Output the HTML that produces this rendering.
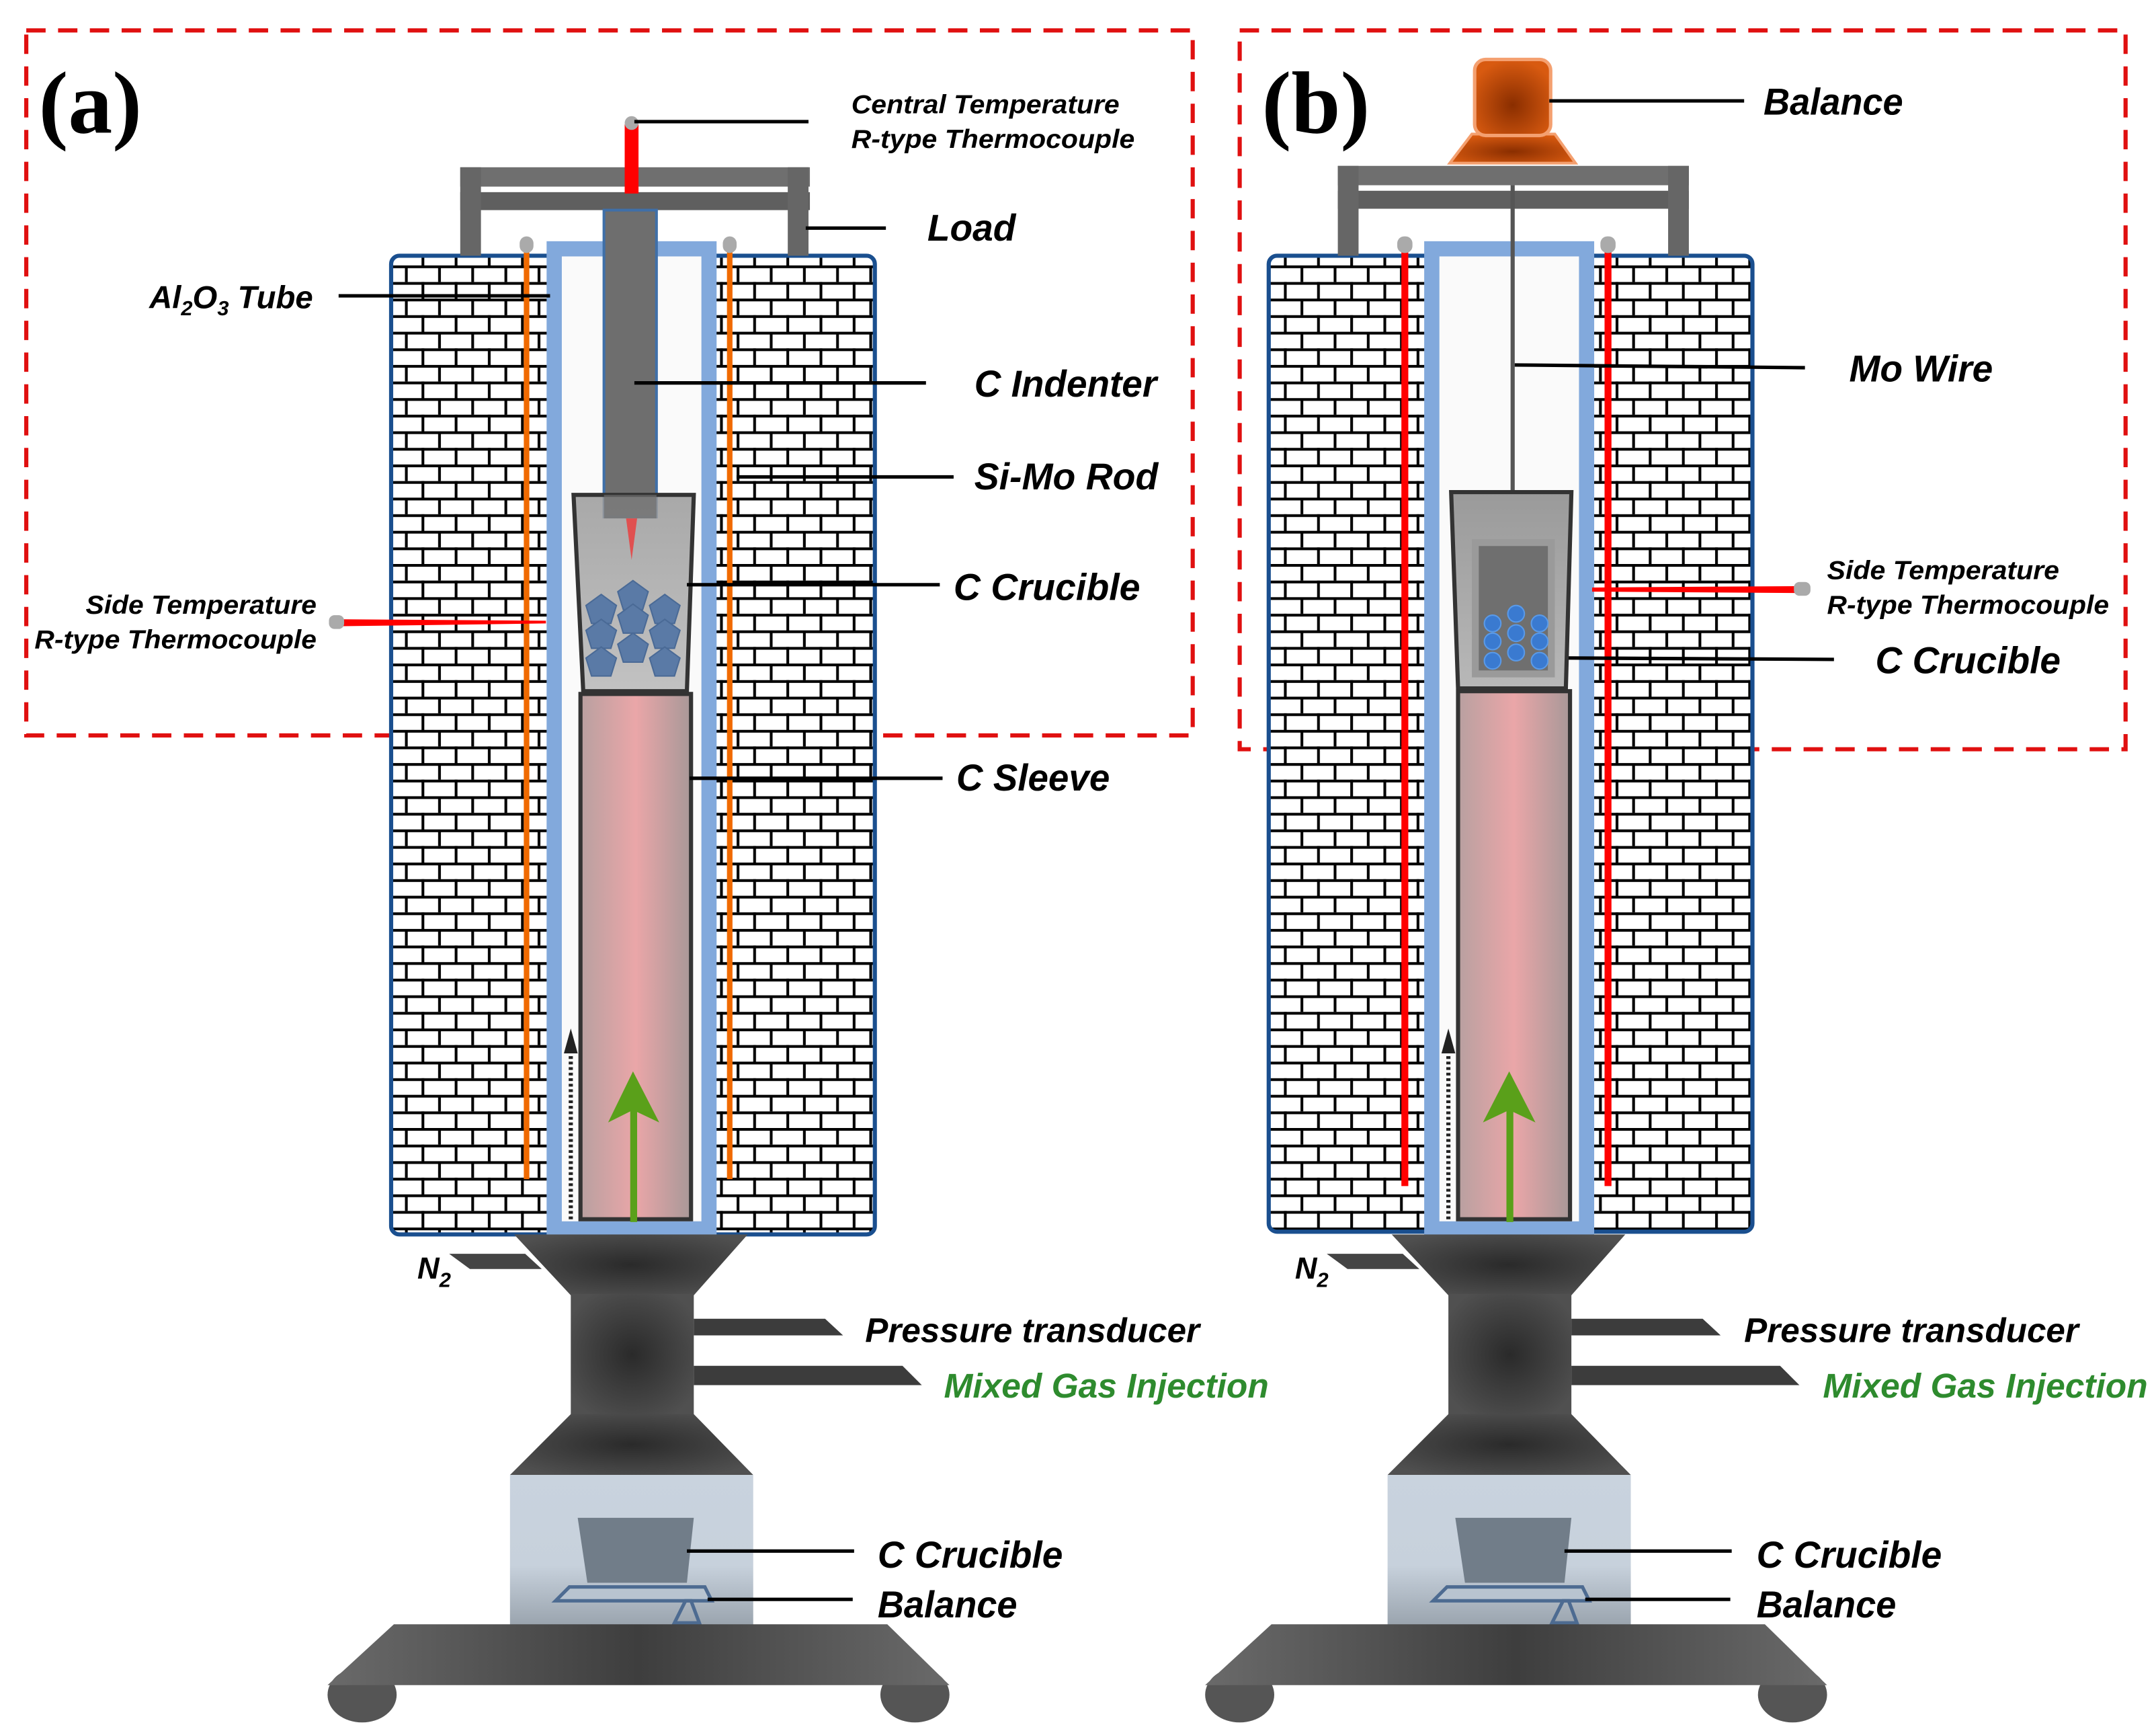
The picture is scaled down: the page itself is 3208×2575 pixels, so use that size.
<!DOCTYPE html>
<html><head><meta charset="utf-8"><style>
html,body{margin:0;padding:0;background:#fff;}
svg{display:block;}
text{font-family:"Liberation Sans",sans-serif;font-weight:bold;font-style:italic;fill:#000;}
</style></head><body>
<svg width="3208" height="2575" viewBox="0 0 1560 1252.2" xmlns="http://www.w3.org/2000/svg">
<defs>
<pattern id="brick" x="0" y="0" width="24" height="24" patternUnits="userSpaceOnUse">
<rect width="24" height="24" fill="#fff"/>
<rect x="0" y="0" width="24" height="2" fill="#000"/>
<rect x="0" y="12" width="24" height="2" fill="#000"/>
<rect x="5" y="0" width="2" height="12" fill="#000"/>
<rect x="17" y="12" width="2" height="12" fill="#000"/>
</pattern>
<linearGradient id="pink" x1="0" x2="1">
<stop offset="0" stop-color="#b8a0a0"/><stop offset="0.5" stop-color="#eaa6a8"/><stop offset="1" stop-color="#a89898"/>
</linearGradient>
<radialGradient id="dark" cx="0.5" cy="0.5" r="0.6">
<stop offset="0" stop-color="#2a2a2a"/><stop offset="1" stop-color="#505050"/>
</radialGradient>
<linearGradient id="chamber" x1="0" y1="0" x2="0" y2="1">
<stop offset="0" stop-color="#c9d3de"/><stop offset="0.6" stop-color="#c7d1dc"/><stop offset="1" stop-color="#9aa4ae"/>
</linearGradient>
<linearGradient id="base" x1="0" x2="1">
<stop offset="0" stop-color="#6a6a6a"/><stop offset="0.5" stop-color="#3e3e3e"/><stop offset="1" stop-color="#6a6a6a"/>
</linearGradient>
<radialGradient id="orange" cx="0.5" cy="0.6" r="0.6">
<stop offset="0" stop-color="#8a2e00"/><stop offset="1" stop-color="#d85a10"/>
</radialGradient>
<linearGradient id="cru" x1="0" y1="0" x2="0" y2="1">
<stop offset="0" stop-color="#9a9a9a"/><stop offset="1" stop-color="#b8b8b8"/>
</linearGradient>
</defs>

<!-- ========== PANEL A ========== -->
<rect x="19" y="22" width="844" height="510" fill="none" stroke="#e01010" stroke-width="3" stroke-dasharray="14,9"/>
<text x="28" y="96" style="font-family:'Liberation Serif',serif;font-style:normal;font-size:64px">(a)</text>

<rect x="283" y="185" width="350" height="708" rx="6" fill="url(#brick)" stroke="#1a4f8f" stroke-width="3"/>
<rect x="333" y="121" width="253" height="14" fill="#6f6f6f"/>
<rect x="333" y="139" width="253" height="13" fill="#5f5f5f"/>
<rect x="333" y="121" width="15" height="64" fill="#666"/>
<rect x="570" y="121" width="15" height="64" fill="#666"/>
<rect x="401" y="180" width="112" height="709" fill="#fafafa" stroke="#82a9dc" stroke-width="11"/>
<rect x="379" y="178" width="4" height="675" fill="#f06a00"/>
<rect x="526" y="178" width="4" height="675" fill="#f06a00"/>
<rect x="376" y="171" width="10" height="12" rx="5" fill="#aaa"/>
<rect x="523" y="171" width="10" height="12" rx="5" fill="#aaa"/>
<rect x="437" y="152" width="38" height="222" fill="#6e6e6e" stroke="#3f6fa8" stroke-width="2"/>
<polygon points="415,358 502,358 497,500 422,500" fill="url(#cru)" stroke="#333" stroke-width="3" fill-opacity="0.85"/>
<rect x="437" y="358" width="38" height="17" fill="#6e6e6e" opacity="0.7"/>
<polygon points="453,375 461,375 457,405" fill="#e05050"/>
<g fill="#5a7aa6" stroke="#4a6a96" stroke-width="1">
<polygon points="458,420 469,428 465,441 451,441 447,428"/>
<polygon points="435,430 446,438 442,451 428,451 424,438"/>
<polygon points="481,430 492,438 488,451 474,451 470,438"/>
<polygon points="458,437 469,445 465,458 451,458 447,445"/>
<polygon points="435,448 446,456 442,469 428,469 424,456"/>
<polygon points="481,448 492,456 488,469 474,469 470,456"/>
<polygon points="458,458 469,466 465,479 451,479 447,466"/>
<polygon points="435,468 446,476 442,489 428,489 424,476"/>
<polygon points="481,468 492,476 488,489 474,489 470,476"/>
</g>
<rect x="420" y="502" width="80" height="380" fill="url(#pink)" stroke="#333" stroke-width="3"/>
<rect x="456" y="800" width="5" height="84" fill="#5aa01a"/>
<polygon points="458,775 440,812 458,803 477,812" fill="#5aa01a"/>
<line x1="413" y1="882" x2="413" y2="758" stroke="#222" stroke-width="3" stroke-dasharray="2,2"/>
<polygon points="413,744 408,762 418,762" fill="#222"/>
<rect x="452" y="90" width="10" height="50" fill="#f00"/>
<circle cx="457" cy="89" r="5" fill="#aaa"/>
<polygon points="248,448 395,449 395,451 248,453" fill="#f00"/>
<rect x="238" y="445" width="11" height="10" rx="4" fill="#aaa"/>

<polygon points="372,893 541,893 502,937 413,937" fill="url(#dark)"/>
<polygon points="325,907 380,907 392,918 340,918" fill="#444"/>
<rect x="413" y="936" width="89" height="88" fill="url(#dark)"/>
<polygon points="502,954 597,954 610,966 502,966" fill="#3c3c3c"/>
<polygon points="502,988 653,988 667,1002 502,1002" fill="#3c3c3c"/>
<polygon points="413,1023 502,1023 545,1067 369,1067" fill="url(#dark)"/>
<rect x="369" y="1067" width="176" height="109" fill="url(#chamber)"/>
<polygon points="418,1098 502,1098 497,1145 425,1145" fill="#717d89"/>
<polygon points="402,1158 412,1148 510,1148 515,1158" fill="#b8c4d0" stroke="#4d6b91" stroke-width="2.5"/>
<polygon points="496,1158 488,1174 506,1174 500,1158" fill="none" stroke="#4d6b91" stroke-width="2.5"/>
<ellipse cx="262" cy="1226" rx="25" ry="20" fill="#555"/>
<ellipse cx="662" cy="1226" rx="25" ry="20" fill="#555"/>
<polygon points="285,1175 642,1175 687,1219 237,1219" fill="url(#base)"/>

<g stroke="#000" stroke-width="2.5">
<line x1="459" y1="88" x2="585" y2="88"/>
<line x1="583" y1="165" x2="641" y2="165"/>
<line x1="245" y1="214" x2="398" y2="214"/>
<line x1="459" y1="277" x2="670" y2="277"/>
<line x1="533" y1="345" x2="690" y2="345"/>
<line x1="497" y1="423" x2="680" y2="423"/>
<line x1="499" y1="563" x2="682" y2="563"/>
<line x1="497" y1="1122" x2="618" y2="1122"/>
<line x1="512" y1="1157" x2="617" y2="1157"/>
</g>
<text x="616" y="82" font-size="19" textLength="194" lengthAdjust="spacingAndGlyphs">Central Temperature</text>
<text x="616" y="107" font-size="19" textLength="205" lengthAdjust="spacingAndGlyphs">R-type Thermocouple</text>
<text x="671" y="174" font-size="27" textLength="64" lengthAdjust="spacingAndGlyphs">Load</text>
<text x="108" y="223" font-size="23">Al<tspan font-size="15" dy="5">2</tspan><tspan dy="-5">O</tspan><tspan font-size="15" dy="5">3</tspan><tspan dy="-5"> Tube</tspan></text>
<text x="705" y="287" font-size="27" textLength="132" lengthAdjust="spacingAndGlyphs">C Indenter</text>
<text x="705" y="354" font-size="27" textLength="133" lengthAdjust="spacingAndGlyphs">Si-Mo Rod</text>
<text x="690" y="434" font-size="27" textLength="135" lengthAdjust="spacingAndGlyphs">C Crucible</text>
<text x="62" y="444" font-size="19" textLength="167" lengthAdjust="spacingAndGlyphs">Side Temperature</text>
<text x="25" y="469" font-size="19" textLength="204" lengthAdjust="spacingAndGlyphs">R-type Thermocouple</text>
<text x="692" y="572" font-size="27" textLength="111" lengthAdjust="spacingAndGlyphs">C Sleeve</text>
<text x="302" y="925" font-size="22">N<tspan font-size="15" dy="6">2</tspan></text>
<text x="626" y="971" font-size="25" textLength="242" lengthAdjust="spacingAndGlyphs">Pressure transducer</text>
<text x="683" y="1011" font-size="25" textLength="235" lengthAdjust="spacingAndGlyphs" style="fill:#2e8b2e">Mixed Gas Injection</text>
<text x="635" y="1134" font-size="27" textLength="134" lengthAdjust="spacingAndGlyphs">C Crucible</text>
<text x="635" y="1170" font-size="27" textLength="101" lengthAdjust="spacingAndGlyphs">Balance</text>

<!-- ========== PANEL B ========== -->
<rect x="897" y="22" width="641" height="520" fill="none" stroke="#e01010" stroke-width="3" stroke-dasharray="14,9"/>
<text x="913" y="96" style="font-family:'Liberation Serif',serif;font-style:normal;font-size:64px">(b)</text>

<rect x="918" y="185" width="350" height="706" rx="6" fill="url(#brick)" stroke="#1a4f8f" stroke-width="3"/>
<rect x="968" y="120" width="254" height="14" fill="#6f6f6f"/>
<rect x="968" y="138" width="254" height="13" fill="#5f5f5f"/>
<rect x="968" y="120" width="15" height="65" fill="#666"/>
<rect x="1207" y="120" width="15" height="65" fill="#666"/>
<polygon points="1065,97 1125,97 1140,118 1049,118" fill="url(#orange)" stroke="#f4a070" stroke-width="2"/>
<rect x="1067" y="43" width="55" height="55" rx="8" fill="url(#orange)" stroke="#f4a070" stroke-width="2.5"/>
<rect x="1036" y="180" width="112" height="709" fill="#fafafa" stroke="#82a9dc" stroke-width="11"/>
<rect x="1014" y="178" width="5" height="680" fill="#f00"/>
<rect x="1161" y="178" width="5" height="680" fill="#f00"/>
<rect x="1011" y="171" width="11" height="12" rx="5" fill="#aaa"/>
<rect x="1158" y="171" width="11" height="12" rx="5" fill="#aaa"/>
<rect x="1093" y="134" width="3" height="258" fill="#555"/>
<polygon points="1050,356 1137,356 1133,498 1055,498" fill="url(#cru)" stroke="#333" stroke-width="3"/>
<rect x="1065" y="390" width="60" height="100" fill="#9a9a9a"/>
<rect x="1070" y="395" width="50" height="90" fill="#6f6f6f"/>
<g fill="#3a7ad0" stroke="#5a9ae8" stroke-width="1">
<circle cx="1097" cy="444" r="6"/><circle cx="1080" cy="451" r="6"/><circle cx="1114" cy="451" r="6"/>
<circle cx="1097" cy="458" r="6"/><circle cx="1080" cy="464" r="6"/><circle cx="1114" cy="464" r="6"/>
<circle cx="1097" cy="472" r="6"/><circle cx="1080" cy="478" r="6"/><circle cx="1114" cy="478" r="6"/>
</g>
<rect x="1055" y="500" width="81" height="382" fill="url(#pink)" stroke="#333" stroke-width="3"/>
<rect x="1090" y="800" width="5" height="84" fill="#5aa01a"/>
<polygon points="1092,775 1073,812 1092,803 1111,812" fill="#5aa01a"/>
<line x1="1048" y1="882" x2="1048" y2="758" stroke="#222" stroke-width="3" stroke-dasharray="2,2"/>
<polygon points="1048,744 1043,762 1053,762" fill="#222"/>
<polygon points="1152,425 1300,424 1300,429 1152,428" fill="#f00"/>
<rect x="1298" y="421" width="12" height="10" rx="4" fill="#aaa"/>

<polygon points="1007,893 1176,893 1137,937 1048,937" fill="url(#dark)"/>
<polygon points="960,907 1015,907 1027,918 975,918" fill="#444"/>
<rect x="1048" y="936" width="89" height="88" fill="url(#dark)"/>
<polygon points="1137,954 1232,954 1245,966 1137,966" fill="#3c3c3c"/>
<polygon points="1137,988 1288,988 1302,1002 1137,1002" fill="#3c3c3c"/>
<polygon points="1048,1023 1137,1023 1180,1067 1004,1067" fill="url(#dark)"/>
<rect x="1004" y="1067" width="176" height="109" fill="url(#chamber)"/>
<polygon points="1053,1098 1137,1098 1132,1145 1060,1145" fill="#717d89"/>
<polygon points="1037,1158 1047,1148 1145,1148 1150,1158" fill="#b8c4d0" stroke="#4d6b91" stroke-width="2.5"/>
<polygon points="1131,1158 1123,1174 1141,1174 1135,1158" fill="none" stroke="#4d6b91" stroke-width="2.5"/>
<ellipse cx="897" cy="1226" rx="25" ry="20" fill="#555"/>
<ellipse cx="1297" cy="1226" rx="25" ry="20" fill="#555"/>
<polygon points="920,1175 1277,1175 1322,1219 872,1219" fill="url(#base)"/>

<g stroke="#000" stroke-width="2.5">
<line x1="1121" y1="73" x2="1262" y2="73"/>
<line x1="1096" y1="264" x2="1306" y2="266"/>
<line x1="1135" y1="476" x2="1327" y2="477"/>
<line x1="1132" y1="1122" x2="1253" y2="1122"/>
<line x1="1147" y1="1157" x2="1252" y2="1157"/>
</g>
<text x="1276" y="83" font-size="27" textLength="101" lengthAdjust="spacingAndGlyphs">Balance</text>
<text x="1338" y="276" font-size="27" textLength="104" lengthAdjust="spacingAndGlyphs">Mo Wire</text>
<text x="1322" y="419" font-size="19" textLength="168" lengthAdjust="spacingAndGlyphs">Side Temperature</text>
<text x="1322" y="444" font-size="19" textLength="204" lengthAdjust="spacingAndGlyphs">R-type Thermocouple</text>
<text x="1357" y="487" font-size="27" textLength="134" lengthAdjust="spacingAndGlyphs">C Crucible</text>
<text x="937" y="925" font-size="22">N<tspan font-size="15" dy="6">2</tspan></text>
<text x="1262" y="971" font-size="25" textLength="242" lengthAdjust="spacingAndGlyphs">Pressure transducer</text>
<text x="1319" y="1011" font-size="25" textLength="235" lengthAdjust="spacingAndGlyphs" style="fill:#2e8b2e">Mixed Gas Injection</text>
<text x="1271" y="1134" font-size="27" textLength="134" lengthAdjust="spacingAndGlyphs">C Crucible</text>
<text x="1271" y="1170" font-size="27" textLength="101" lengthAdjust="spacingAndGlyphs">Balance</text>
</svg>
</body></html>
